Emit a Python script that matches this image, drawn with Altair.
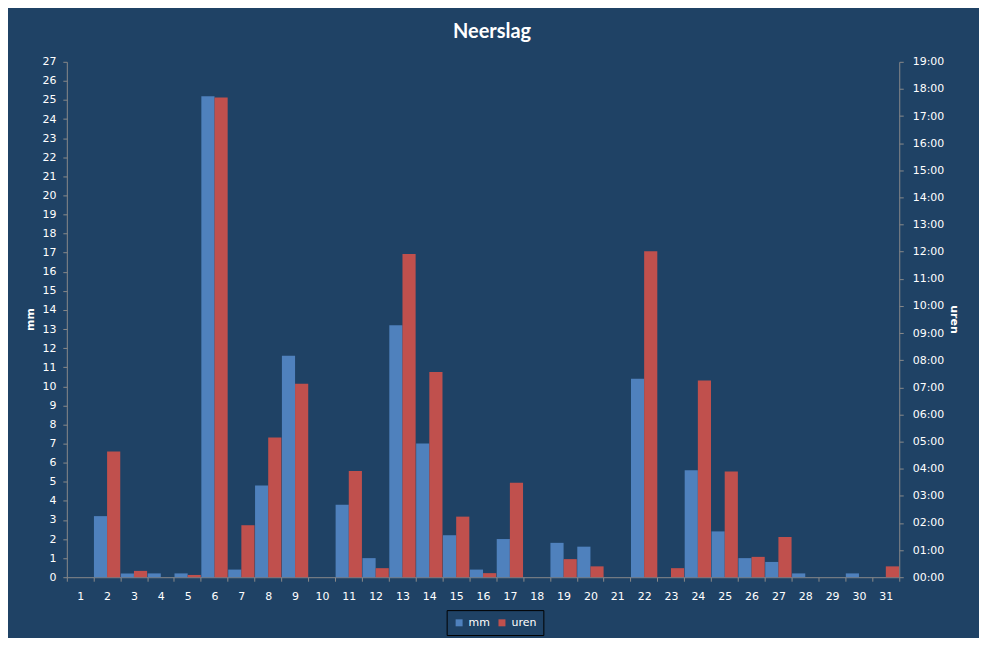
import altair as alt
import pandas as pd

days = list(range(1, 32))

# neerslag in mm per dag
mm = [0, 3.2, 0.2, 0.2, 0.2, 25.2, 0.4, 4.8, 11.6, 0, 3.8, 1.0, 13.2, 7.0, 2.2, 0.4,
      2.0, 0, 1.8, 1.6, 0, 10.4, 0, 5.6, 2.4, 1.0, 0.8, 0.2, 0, 0.2, 0]

# duur van de neerslag (uu:mm) per dag
uren = ["0:00", "4:38", "0:14", "0:00", "0:05", "17:41", "1:55", "5:09", "7:08", "0:00",
        "3:55", "0:20", "11:55", "7:34", "2:14", "0:09", "3:29", "0:00", "0:40", "0:24",
        "0:00", "12:01", "0:20", "7:15", "3:54", "0:45", "1:29", "0:00", "0:00", "0:00", "0:24"]

series = ["mm", "uren"]
colors = ["#4F81BD", "#C0504D"]


def to_hours(s):
    h, m = s.split(":")
    return int(h) + int(m) / 60


mm_df = pd.DataFrame({"day": days, "value": mm, "series": "mm"})
uren_df = pd.DataFrame({"day": days, "value": [to_hours(u) for u in uren], "series": "uren"})

BG = "#1F4265"
AXIS = "#8A8A8A"

x_enc = alt.X("day:O", title=None,
              scale=alt.Scale(paddingInner=0.02, paddingOuter=0.01),
              axis=alt.Axis(labelAngle=0, tickBand="extent", tickSize=4, labelPadding=9))
xo_enc = alt.XOffset("series:N", scale=alt.Scale(domain=series, paddingInner=0, paddingOuter=0))
color_enc = alt.Color("series:N",
                      scale=alt.Scale(domain=series, range=colors),
                      legend=alt.Legend(title=None, orient="none", legendX=381, legendY=550,
                                        direction="horizontal", symbolType="square",
                                        symbolSize=49, symbolStrokeWidth=0,
                                        labelColor="white", labelFontSize=11,
                                        labelFont="DejaVu Sans", labelOffset=4,
                                        columnPadding=6, padding=7, strokeColor="black"))

bars_mm = alt.Chart(mm_df).mark_bar().encode(
    x=x_enc,
    xOffset=xo_enc,
    y=alt.Y("value:Q", title="mm",
            scale=alt.Scale(domain=[0, 27], nice=False),
            axis=alt.Axis(orient="left", values=list(range(28)), tickSize=4, labelPadding=7,
                          titleX=-36, titleY=258, titleAngle=270, titleAlign="center",
                          titleBaseline="middle")),
    color=color_enc,
)

bars_uren = alt.Chart(uren_df).mark_bar().encode(
    x=x_enc,
    xOffset=xo_enc,
    y=alt.Y("value:Q", title="uren",
            scale=alt.Scale(domain=[0, 19], nice=False),
            axis=alt.Axis(orient="right", values=list(range(20)), tickSize=4, labelPadding=9,
                          labelExpr="(datum.value < 10 ? '0' : '') + datum.value + ':00'",
                          titleX=54, titleY=258, titleAngle=90, titleAlign="center",
                          titleBaseline="middle")),
    color=color_enc,
)

chart = (bars_mm + bars_uren).resolve_scale(y="independent").properties(
    width=835,
    height=517,
    autosize=alt.AutoSizeParams(type="none"),
    padding={"left": 59, "top": 53, "right": 80, "bottom": 60},
    background=BG,
    title=alt.TitleParams("Neerslag", anchor="middle", font="Lato", fontSize=20,
                          fontWeight="bold", color="white", offset=14, dx=9),
).configure_view(
    stroke=None
).configure_axis(
    grid=False,
    domainColor=AXIS,
    tickColor=AXIS,
    labelColor="white",
    labelFont="DejaVu Sans",
    labelFontSize=11,
    titleColor="white",
    titleFont="DejaVu Sans",
    titleFontSize=11,
    titleFontWeight="bold",
)

chart.save("out.html", embed_options={"renderer": "svg", "actions": False})
